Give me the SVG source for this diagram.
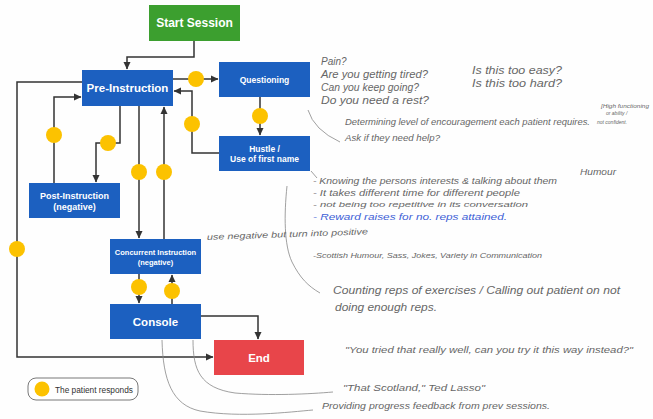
<svg xmlns="http://www.w3.org/2000/svg" width="653" height="419" viewBox="0 0 653 419">
<defs>
<marker id="ah" markerWidth="8" markerHeight="8" refX="7" refY="4" orient="auto" markerUnits="userSpaceOnUse">
<path d="M0,0.5 L7.5,4 L0,7.5 z" fill="#333"/>
</marker>
<style>
.n{fill:#1c60c0}
.t{fill:#fff;font-family:"Liberation Sans",Arial,sans-serif;font-weight:bold;text-anchor:middle}
.c{stroke:#333;stroke-width:1.5;fill:none}
.d{fill:#fcc200}
.h{font-family:"Liberation Sans",Arial,sans-serif;font-style:italic;fill:#666}
.p{stroke:#888;stroke-width:0.8;fill:none}
</style>
</defs>
<rect width="653" height="419" fill="#fefefe"/>

<g id="connectors">
<path class="c" d="M194,41 V57 H127 V69" marker-end="url(#ah)"/>
<path class="c" d="M173,79 H218" marker-end="url(#ah)"/>
<path class="c" d="M260,97 V135" marker-end="url(#ah)"/>
<path class="c" d="M219,153 H192 V91 H174" marker-end="url(#ah)"/>
<path class="c" d="M120,106 V143 H96 V182" marker-end="url(#ah)"/>
<path class="c" d="M54,183 V97 H81" marker-end="url(#ah)"/>
<path class="c" d="M139,106 V238" marker-end="url(#ah)"/>
<path class="c" d="M164,239 V107" marker-end="url(#ah)"/>
<path class="c" d="M82,82 H17 V357 H213" marker-end="url(#ah)"/>
<path class="c" d="M139,274 V303" marker-end="url(#ah)"/>
<path class="c" d="M172,304 V275" marker-end="url(#ah)"/>
<path class="c" d="M201,316 H258 V339" marker-end="url(#ah)"/>
<circle class="d" cx="196" cy="79" r="8"/>
<circle class="d" cx="260" cy="116" r="8"/>
<circle class="d" cx="192" cy="124" r="8"/>
<circle class="d" cx="108" cy="143" r="8"/>
<circle class="d" cx="54" cy="135" r="8"/>
<circle class="d" cx="139" cy="172" r="8"/>
<circle class="d" cx="164" cy="172" r="8"/>
<circle class="d" cx="17" cy="249" r="8"/>
<circle class="d" cx="139" cy="287" r="8"/>
<circle class="d" cx="172" cy="291" r="8"/>
</g>

<g id="start"><rect x="149" y="5" width="91" height="36" fill="#3c9f2f"/><text class="t" x="194.5" y="27" font-size="12">Start Session</text></g>
<g id="pre"><rect class="n" x="82" y="70" width="91" height="36"/><text class="t" x="127.5" y="92" font-size="11.5">Pre-Instruction</text></g>
<g id="questioning"><rect class="n" x="219" y="62" width="91" height="35"/><text class="t" x="264.5" y="83" font-size="8.5">Questioning</text></g>
<g id="hustle"><rect class="n" x="219" y="136" width="91" height="35"/><text class="t" x="264.5" y="152" font-size="8.5">Hustle /</text><text class="t" x="264.5" y="162" font-size="8.5">Use of first name</text></g>
<g id="post"><rect class="n" x="29" y="183" width="91" height="35"/><text class="t" x="74.5" y="199" font-size="9">Post-Instruction</text><text class="t" x="74.5" y="210" font-size="9">(negative)</text></g>
<g id="concurrent"><rect class="n" x="110" y="239" width="91" height="35"/><text class="t" x="155.5" y="255" font-size="7.5">Concurrent Instruction</text><text class="t" x="155.5" y="265" font-size="7.5">(negative)</text></g>
<g id="console"><rect class="n" x="110" y="304" width="91" height="35"/><text class="t" x="155.5" y="326" font-size="11.5">Console</text></g>
<g id="end"><rect x="214" y="340" width="90" height="35" fill="#e8454a"/><text class="t" x="259" y="362" font-size="11.5">End</text></g>

<g id="legend">
<rect x="28" y="378" width="110" height="22" rx="8" fill="#fff" stroke="#555" stroke-width="0.8"/>
<circle class="d" cx="42" cy="389" r="7.5"/>
<text x="55" y="392.5" font-family="Liberation Sans,Arial,sans-serif" font-size="8.3" fill="#333">The patient responds</text>
</g>

<g id="notes">
<path class="p" d="M308,110 Q314,130 340,142"/>
<path class="p" d="M311,171 L317,178"/>
<path class="p" d="M287,186 C284,215 284,245 292,262 C300,278 308,286 320,293"/>
<path class="p" d="M162,340 C163,380 172,405 200,411 C240,418 290,412 313,410"/>
<path class="p" d="M193,340 C193,370 200,388 235,393 C270,396 310,394 333,392"/>
<text class="h" x="321" y="65" font-size="10">Pain?</text>
<text class="h" x="321" y="78" font-size="10" textLength="107" lengthAdjust="spacingAndGlyphs">Are you getting tired?</text>
<text class="h" x="321" y="91" font-size="10" textLength="98" lengthAdjust="spacingAndGlyphs">Can you keep going?</text>
<text class="h" x="321" y="104" font-size="10" textLength="108" lengthAdjust="spacingAndGlyphs">Do you need a rest?</text>
<text class="h" x="472" y="74" font-size="10" textLength="90" lengthAdjust="spacingAndGlyphs">Is this too easy?</text>
<text class="h" x="472" y="87" font-size="10" textLength="90" lengthAdjust="spacingAndGlyphs">Is this too hard?</text>
<text class="h" x="345" y="125" font-size="9" textLength="245" lengthAdjust="spacingAndGlyphs">Determining level of encouragement each patient requires.</text>
<text class="h" x="345" y="141" font-size="9" textLength="95" lengthAdjust="spacingAndGlyphs">Ask if they need help?</text>
<text class="h" x="601" y="108" font-size="5" textLength="48" lengthAdjust="spacingAndGlyphs">[High functioning</text>
<text class="h" x="606" y="115" font-size="5">or ability /</text>
<text class="h" x="597" y="124" font-size="5">not confident.</text>
<text class="h" x="313" y="184" font-size="8.5" textLength="244" lengthAdjust="spacingAndGlyphs">- Knowing the persons interests &amp; talking about them</text>
<text class="h" x="580" y="175" font-size="8.5" textLength="36" lengthAdjust="spacingAndGlyphs">Humour</text>
<text class="h" x="313" y="196" font-size="8.5" textLength="207" lengthAdjust="spacingAndGlyphs">- It takes different time for different people</text>
<text class="h" x="313" y="207" font-size="8" textLength="215" lengthAdjust="spacingAndGlyphs">- not being too repetitive in its conversation</text>
<text class="h" x="313" y="220" font-size="9.5" style="fill:#3d5fd6" textLength="194" lengthAdjust="spacingAndGlyphs">- Reward raises for no. reps attained.</text>
<text class="h" x="207" y="240" font-size="8.5" textLength="161" lengthAdjust="spacingAndGlyphs" transform="rotate(-2 207 240)">use negative but turn into positive</text>
<text class="h" x="313" y="258" font-size="8" textLength="229" lengthAdjust="spacingAndGlyphs">-Scottish Humour, Sass, Jokes, Variety in Communication</text>
<text class="h" x="333" y="294" font-size="11" textLength="287" lengthAdjust="spacingAndGlyphs">Counting reps of exercises / Calling out patient on not</text>
<text class="h" x="335" y="311" font-size="11" textLength="102" lengthAdjust="spacingAndGlyphs">doing enough reps.</text>
<text class="h" x="345" y="353" font-size="9.5" textLength="288" lengthAdjust="spacingAndGlyphs">"You tried that really well, can you try it this way instead?"</text>
<text class="h" x="343" y="391" font-size="9" textLength="142" lengthAdjust="spacingAndGlyphs">"That Scotland," Ted Lasso"</text>
<text class="h" x="322" y="409" font-size="9" textLength="228" lengthAdjust="spacingAndGlyphs">Providing progress feedback from prev sessions.</text>
</g>
</svg>
